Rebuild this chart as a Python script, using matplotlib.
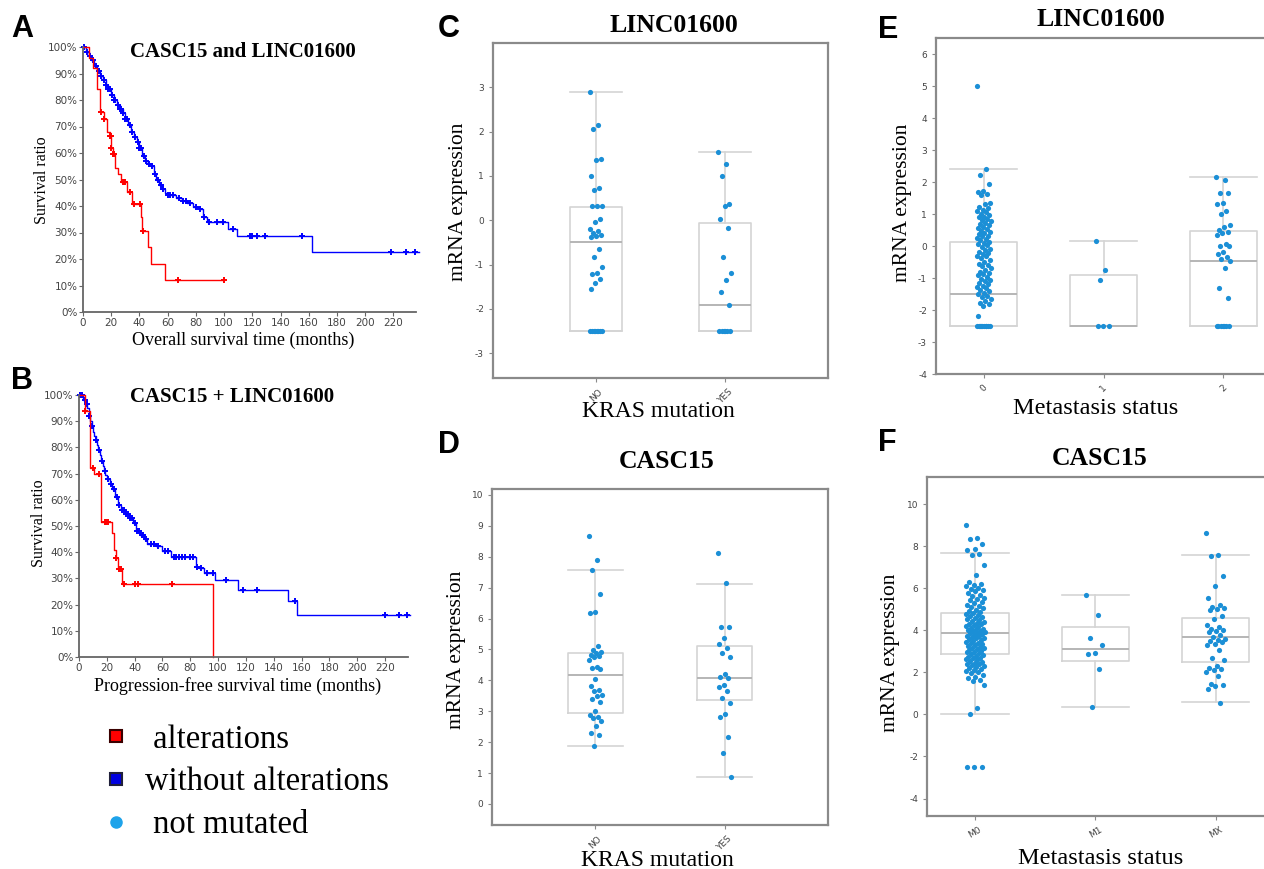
import numpy as np
import matplotlib
matplotlib.use('Agg')
import matplotlib.pyplot as plt
from matplotlib.lines import Line2D

plt.rcParams['axes.unicode_minus'] = False

W, H = 1264, 869
SERIF = 'Liberation Serif'
SANS = 'Liberation Sans'
RED = '#ff0000'
BLUE = '#0000ff'
PT = '#1b8fd6'

# ---- A: overall survival (months, %) ----
a_red_t = [0, 4, 7, 10, 12, 15, 17, 19, 20, 21, 23, 25, 27, 31, 35, 41, 42, 46, 48, 58]
a_red_s = [100, 96, 92, 84, 75.5, 73, 68, 66.5, 62, 59.5, 54.5, 52, 49, 45.3, 40.7, 36, 30.6, 24.5, 18.3, 12.2]
a_red_end = 100
a_red_cens = [13, 15, 19, 19.5, 20, 21, 22, 28, 29, 30, 33, 36, 40.5, 42.2, 67, 100]

a_blue_t = [0, 2, 4, 6, 8, 10, 12, 14, 16, 18, 20, 22, 24, 26, 28, 30, 32, 34, 36, 38,
            40, 42, 44, 46, 48, 50, 52, 54, 56, 58, 60, 66, 70, 74, 78, 82, 85, 88, 103, 109, 162]
a_blue_s = [100, 98, 96.5, 95, 93, 91, 89, 87.5, 85.5, 84, 82, 80, 78, 76.5, 75, 73, 70.5, 68, 66, 64,
            62, 59, 57, 56, 55, 52, 50, 48, 46.5, 45, 44, 43, 42, 41, 39.5, 39, 36, 34, 31.5, 28.5, 22.8]
a_blue_end = 238
a_blue_cens = [1, 3, 5, 7, 9, 11, 13, 15, 16.5, 18, 19, 20.5, 22, 23, 24.5, 26, 27, 28.5, 30, 31,
               33, 35, 37, 39, 40, 41, 43, 45, 47, 49, 51, 53, 55, 57, 60, 62, 64, 68, 71, 73,
               76, 80, 83, 86, 89, 95, 99, 106, 118, 120, 123, 129, 155, 218, 229, 235]

# ---- B: progression-free survival ----
b_red_t = [0, 4, 8, 11, 16, 24, 25.5, 26.5, 28, 31, 96]
b_red_s = [100, 94, 72, 70, 51.5, 47.5, 41, 37.8, 33.5, 27.8, 0]
b_red_end = 96
b_red_cens = [4.3, 10, 14.5, 18.5, 19.5, 21, 26.6, 29, 30.5, 32, 40, 42.5, 67]

b_blue_t = [0, 3, 5, 6, 7, 8, 9, 10, 11, 12, 13, 14, 15, 16, 17, 18, 19, 20, 22, 24,
            26, 28, 30, 33, 36, 39, 41, 44, 47, 49, 55, 60, 66, 84, 86, 90, 98, 114, 150, 157]
b_blue_s = [100, 98, 96.5, 95, 92, 90, 88, 86, 84.5, 83, 81, 79, 77, 75, 73, 71, 69.5, 68, 66, 64,
            61, 58, 56, 54.5, 53, 51, 48, 46.5, 45, 43, 42.5, 40.5, 38, 34.5, 34, 32, 29.3, 25.7, 21.5, 16]
b_blue_end = 238
b_blue_cens = [1, 2, 4, 5.5, 7.5, 9.5, 12.5, 14.5, 16.5, 18.5, 21, 23, 25, 27, 29, 31, 32, 34, 35, 37,
               38, 40, 42, 43, 45, 46, 48, 52, 54, 57, 62, 64, 68, 70, 72, 74, 76, 80, 82, 85,
               88, 92, 96, 106, 118, 128, 155, 220, 230, 236]

# ---- C: LINC01600 vs KRAS mutation ----
c_labels = ['NO', 'YES']
c_no = [2.9, 2.15, 2.07, 1.39, 1.35, 1.0, 0.72, 0.68, 0.32, 0.32, 0.32, 0.02, -0.04, -0.2, -0.25,
        -0.28, -0.34, -0.36, -0.37, -0.66, -0.84, -1.05, -1.19, -1.22, -1.32, -1.42, -1.55,
        -2.5, -2.5, -2.5, -2.5, -2.5, -2.5, -2.5, -2.5]
c_yes = [1.55, 1.26, 1.0, 0.37, 0.33, 0.02, -0.17, -0.84, -1.18, -1.35, -1.63, -1.91,
         -2.5, -2.5, -2.5, -2.5, -2.5, -2.5]
c_lo = [-2.5, -2.5]
c_q1 = [-2.5, -2.5]
c_med = [-0.5, -1.92]
c_q3 = [0.3, -0.07]
c_hi = [2.9, 1.55]

# ---- D: CASC15 vs KRAS mutation ----
d_labels = ['NO', 'YES']
d_no = [8.67, 7.9, 7.57, 6.79, 6.22, 6.17, 5.12, 4.98, 4.93, 4.88, 4.82, 4.8, 4.75, 4.66, 4.44,
        4.39, 4.36, 4.03, 3.82, 3.69, 3.64, 3.52, 3.5, 3.39, 3.31, 3.02, 2.88, 2.83, 2.77, 2.67,
        2.53, 2.31, 2.23, 1.88]
d_yes = [8.11, 7.14, 5.72, 5.72, 5.38, 5.18, 5.06, 4.88, 4.74, 4.21, 4.12, 4.07, 3.85, 3.8,
         3.67, 3.42, 3.26, 2.9, 2.8, 2.18, 1.64, 0.86]
d_lo = [1.88, 0.88]
d_q1 = [2.93, 3.35]
d_med = [4.18, 4.07]
d_q3 = [4.87, 5.12]
d_hi = [7.58, 7.13]

# ---- E: LINC01600 vs metastasis status ----
e_labels = ['0', '1', '2']
e_0 = [5.0, 2.42, 2.22, 1.93, 1.72, 1.68, 1.62, 1.58, 1.35, 1.3, 1.22, 1.18, 1.12, 1.08, 1.05, 1.0,
       0.97, 0.92, 0.9, 0.85, 0.82, 0.78, 0.72, 0.68, 0.65, 0.6, 0.55, 0.52, 0.48, 0.45, 0.42, 0.38,
       0.32, 0.3, 0.25, 0.22, 0.18, 0.12, 0.08, 0.05, 0.02, -0.02, -0.08, -0.12, -0.18, -0.22, -0.25,
       -0.3, -0.32, -0.38, -0.45, -0.5, -0.55, -0.58, -0.62, -0.68, -0.75, -0.82, -0.85, -0.88, -0.92,
       -0.98, -1.02, -1.05, -1.1, -1.15, -1.2, -1.25, -1.28, -1.32, -1.38, -1.42, -1.48, -1.5, -1.55,
       -1.6, -1.65, -1.72, -1.78, -1.82, -1.88, -2.2,
       -2.5, -2.5, -2.5, -2.5, -2.5, -2.5, -2.5, -2.5, -2.5, -2.5]
e_1 = [0.17, -0.75, -1.05, -2.5, -2.5, -2.5]
e_2 = [2.17, 2.05, 1.65, 1.65, 1.35, 1.3, 1.1, 1.0, 0.65, 0.6, 0.5, 0.45, 0.4, 0.35, 0.05, 0.0, 0.0,
       -0.2, -0.25, -0.35, -0.4, -0.48, -0.7, -1.3, -1.62, -2.5, -2.5, -2.5, -2.5, -2.5, -2.5, -2.5]
e_lo = [-2.5, -2.5, -2.5]
e_q1 = [-2.5, -2.5, -2.5]
e_med = [-1.49, -2.5, -0.47]
e_q3 = [0.13, -0.9, 0.48]
e_hi = [2.42, 0.17, 2.17]

# ---- F: CASC15 vs metastasis status ----
f_labels = ['M0', 'M1', 'MX']
f_m0 = [9.0, 8.4, 8.32, 8.12, 7.88, 7.8, 7.62, 7.58, 7.12, 6.62, 6.3, 6.22, 6.15, 6.1, 6.02, 5.96,
        5.9, 5.85, 5.78, 5.7, 5.62, 5.55, 5.5, 5.42, 5.35, 5.3, 5.22, 5.15, 5.1, 5.05, 4.98, 4.92,
        4.88, 4.82, 4.78, 4.72, 4.68, 4.62, 4.58, 4.52, 4.48, 4.45, 4.4, 4.36, 4.32, 4.28, 4.25, 4.2,
        4.16, 4.12, 4.08, 4.05, 4.02, 3.98, 3.95, 3.92, 3.88, 3.85, 3.82, 3.78, 3.75, 3.72, 3.68, 3.65,
        3.62, 3.58, 3.55, 3.5, 3.46, 3.42, 3.38, 3.35, 3.3, 3.26, 3.22, 3.18, 3.15, 3.1, 3.05, 3.02,
        2.98, 2.95, 2.9, 2.86, 2.82, 2.78, 2.75, 2.7, 2.66, 2.62, 2.58, 2.55, 2.5, 2.46, 2.42, 2.38,
        2.35, 2.3, 2.25, 2.2, 2.15, 2.1, 2.05, 2.0, 1.95, 1.88, 1.8, 1.72, 1.65, 1.6, 1.42,
        0.32, 0.0, -2.5, -2.5, -2.5]
f_m1 = [5.68, 4.75, 3.62, 3.3, 2.92, 2.88, 2.18, 0.33]
f_mx = [8.65, 7.57, 7.55, 6.6, 6.1, 5.55, 5.2, 5.1, 5.05, 5.0, 4.95, 4.7, 4.55, 4.25, 4.15, 4.05,
        4.0, 3.95, 3.9, 3.8, 3.7, 3.6, 3.55, 3.5, 3.45, 3.35, 3.3, 3.05, 2.7, 2.6, 2.3, 2.2, 2.15,
        2.1, 2.0, 1.85, 1.45, 1.4, 1.35, 1.2, 0.55]
f_lo = [0.0, 0.33, 0.57]
f_q1 = [2.88, 2.55, 2.48]
f_med = [3.87, 3.12, 3.68]
f_q3 = [4.82, 4.18, 4.58]
f_hi = [7.68, 5.68, 7.57]

legend_labels = [' alterations', 'without alterations', ' not mutated']


fig = plt.figure(figsize=(W / 100, H / 100), dpi=100)


def px_axes(l, t, r, b):
    return fig.add_axes([l / W, 1 - b / H, (r - l) / W, (b - t) / H])


def txt(x, y, s, **kw):
    fig.text(x / W, 1 - y / H, s, ha='center', va='center', **kw)


def km(ax, t, s, end, cens, color):
    ax.step(list(t) + [end], list(s) + [s[-1]], where='post', color=color, lw=1.0, clip_on=False)
    idx = np.searchsorted(t, cens, side='right') - 1
    ax.plot(cens, np.array(s)[idx], ls='', marker='+', color=color, ms=4.5, mew=1.4, clip_on=False)


def km_axes(ax, xmax):
    ax.set_xlim(0, xmax)
    ax.set_ylim(0, 100)
    ax.set_xticks(range(0, 221, 20))
    ax.set_yticks(range(0, 101, 10))
    ax.set_yticklabels([f'{v}%' for v in range(0, 101, 10)])
    for sp in ['top', 'right']:
        ax.spines[sp].set_visible(False)
    for sp in ['left', 'bottom']:
        ax.spines[sp].set_color('#666666')
        ax.spines[sp].set_linewidth(1.3)
    ax.tick_params(labelsize=7.5, colors='#444444', length=3, pad=1, color='#666666')


def box_panel(ax, groups, labels, lo, q1, med, q3, hi, width, jit, rot):
    stats = [dict(med=med[i], q1=q1[i], q3=q3[i], whislo=lo[i], whishi=hi[i], fliers=[])
             for i in range(len(groups))]
    grey = dict(color='#d4d4d4', lw=1.2)
    ax.bxp(stats, positions=range(len(groups)), widths=width, capwidths=width, showfliers=False,
           boxprops=grey, whiskerprops=grey, capprops=grey,
           medianprops=dict(color='#b5b5b5', lw=1.4), manage_ticks=False)
    for i, vals in enumerate(groups):
        k = np.arange(len(vals))
        off = ((k * 0.618034) % 1 - 0.5) * 2 * jit
        ax.scatter(i + off, vals, s=14, color=PT, lw=0, zorder=3)
    ax.set_xticks(range(len(groups)))
    ax.set_xticklabels(labels, rotation=rot, fontsize=6.5, color='#444444')
    for sp in ax.spines.values():
        sp.set_color('#8a8a8a')
        sp.set_linewidth(1.6)
    ax.tick_params(labelsize=6.5, colors='#444444', length=3, color='#8a8a8a')


# A
axA = px_axes(83, 47, 416, 312)
km(axA, a_blue_t, a_blue_s, a_blue_end, a_blue_cens, BLUE)
km(axA, a_red_t, a_red_s, a_red_end, a_red_cens, RED)
km_axes(axA, 236)

# B
axB = px_axes(79, 395, 408, 657)
km(axB, b_blue_t, b_blue_s, b_blue_end, b_blue_cens, BLUE)
km(axB, b_red_t, b_red_s, b_red_end, b_red_cens, RED)
km_axes(axB, 236.5)

# C
axC = px_axes(493, 43, 828, 378)
box_panel(axC, [c_no, c_yes], c_labels, c_lo, c_q1, c_med, c_q3, c_hi, 0.41, 0.05, 45)
axC.set_xlim(-0.8, 1.8)
axC.set_ylim(-3.56, 4.0)
axC.set_yticks(range(-3, 4))

# D
axD = px_axes(492, 489, 828, 825)
box_panel(axD, [d_no, d_yes], d_labels, d_lo, d_q1, d_med, d_q3, d_hi, 0.42, 0.05, 45)
axD.set_xlim(-0.8, 1.8)
axD.set_ylim(-0.68, 10.19)
axD.set_yticks(range(0, 11))

# E
axE = px_axes(936, 38, 1300, 374)
box_panel(axE, [e_0, e_1, e_2], e_labels, e_lo, e_q1, e_med, e_q3, e_hi, 0.56, 0.06, 45)
axE.set_xlim(-0.4, 2.64)
axE.set_ylim(-4, 6.5)
axE.set_yticks(range(-4, 7))

# F
axF = px_axes(927, 477, 1300, 816)
box_panel(axF, [f_m0, f_m1, f_mx], f_labels, f_lo, f_q1, f_med, f_q3, f_hi, 0.56, 0.08, 30)
axF.set_xlim(-0.4, 2.7)
axF.set_ylim(-4.83, 11.29)
axF.set_yticks(range(-4, 11, 2))

# panel letters
for x, y, s in [(22, 29, 'A'), (22, 381, 'B'), (449, 29, 'C'), (449, 445, 'D'),
                (888, 30, 'E'), (887, 443, 'F')]:
    txt(x, y, s, family=SANS, fontweight='bold', fontsize=22)

# titles
bold = dict(family=SERIF, fontweight='bold')
txt(243, 52, 'CASC15 and LINC01600', fontsize=15, **bold)
txt(232, 397, 'CASC15 + LINC01600', fontsize=15, **bold)
txt(674, 25, 'LINC01600', fontsize=18.5, **bold)
txt(667, 462, 'CASC15', fontsize=18.5, **bold)
txt(1101, 19, 'LINC01600', fontsize=18.5, **bold)
txt(1100, 458, 'CASC15', fontsize=18.5, **bold)

# axis labels
txt(243, 340, 'Overall survival time (months)', family=SERIF, fontsize=13)
txt(238, 686, 'Progression-free survival time (months)', family=SERIF, fontsize=13)
txt(42, 180, 'Survival ratio', family=SERIF, fontsize=11.5, rotation=90)
txt(39, 523, 'Survival ratio', family=SERIF, fontsize=11.5, rotation=90)
for x, y in [(459, 202), (457, 650), (903, 203), (890, 653)]:
    txt(x, y, 'mRNA expression', family=SERIF, fontsize=15.5, rotation=90)
txt(658, 411, 'KRAS mutation', family=SERIF, fontsize=17)
txt(657, 860, 'KRAS mutation', family=SERIF, fontsize=17)
txt(1096, 409, 'Metastasis status', family=SERIF, fontsize=17.5)
txt(1101, 858, 'Metastasis status', family=SERIF, fontsize=17.5)

# legend
handles = [Line2D([], [], ls='', marker='s', ms=8, mfc=RED, mec='#3a0000', mew=1.5),
           Line2D([], [], ls='', marker='s', ms=8, mfc='#0000e0', mec='#20203a', mew=1.5),
           Line2D([], [], ls='', marker='o', ms=8, mfc='#1ea3ea', mec='#1ea3ea')]
fig.legend(handles, legend_labels, loc='upper left', bbox_to_anchor=(101 / W, 1 - 724 / H),
           frameon=False, prop=dict(family=SERIF, size=23.5), handlelength=0.9,
           handletextpad=0.45, labelspacing=0.38, borderpad=0, borderaxespad=0)

fig.savefig('out.png', dpi=100)
